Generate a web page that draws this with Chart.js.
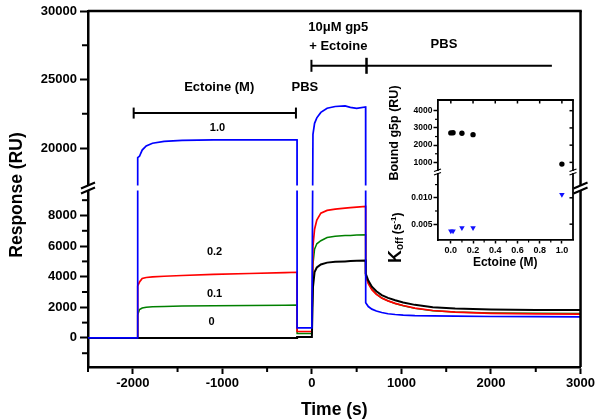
<!DOCTYPE html>
<html>
<head>
<meta charset="utf-8">
<script src="https://cdn.jsdelivr.net/npm/chart.js@4.4.0/dist/chart.umd.min.js"></script>
<style>
    html, body { margin: 0; padding: 0; background: #fff; }
    #wrap { position: relative; width: 597px; height: 420px; }
    #main { position: absolute; left: 0; top: 0; }
    #inset { position: absolute; left: 370px; top: 80px; }
</style>
</head>
<body>
<div id="wrap">
    <canvas id="main" width="597" height="420"></canvas>
    <canvas id="inset" width="215" height="200"></canvas>
</div>
<script>
const FONT = '"Liberation Sans", Arial, sans-serif';

// sensorgram: time (s) shared by all four traces, response in RU
const times = [-2500, -1946, -1945, -1925, -1895, -1850, -1780, -1650, -1450, -1100, -700, -300, -166, -165,
    0, 12, 30, 55, 100, 170, 260, 370, 430, 500, 600,
    601, 630, 670, 720, 780, 850, 930, 1020, 1150, 1350, 1600, 2000, 2500, 3000];
const resp10 = [0, 0, 19300, 19400, 19850, 20150, 20350, 20480, 20560, 20600, 20600, 20600, 20600, 650,
    650, 21000, 21800, 22200, 22600, 22900, 23030, 23070, 22970, 22900, 23000,
    2300, 2050, 1880, 1760, 1660, 1580, 1530, 1490, 1460, 1440, 1420, 1400, 1390, 1380];
const resp02 = [0, 0, 3400, 3650, 3880, 3950, 3990, 4030, 4080, 4150, 4210, 4270, 4290, 420,
    420, 6000, 7100, 7700, 8150, 8330, 8420, 8480, 8510, 8550, 8600,
    4050, 3550, 3150, 2850, 2600, 2420, 2260, 2120, 1950, 1790, 1680, 1610, 1570, 1550];
const resp01 = [0, 0, 1500, 1850, 1950, 2000, 2030, 2060, 2080, 2100, 2120, 2140, 2150, 290,
    290, 4800, 5800, 6150, 6350, 6560, 6640, 6690, 6700, 6720, 6740,
    4100, 3600, 3180, 2870, 2610, 2420, 2250, 2100, 1930, 1770, 1690, 1630, 1610, 1600];
const resp00 = [0, 0, 0, 0, 0, 0, 0, 0, 0, 0, 0, 0, 0, 60,
    60, 3300, 4300, 4600, 4800, 4920, 4970, 5000, 5020, 5040, 5050,
    4200, 3750, 3350, 3050, 2800, 2620, 2460, 2320, 2160, 2010, 1920, 1860, 1830, 1820];

const yMajor = [0, 2000, 4000, 6000, 8000, 20000, 25000, 30000];
const yMinor = [-1000, 1000, 3000, 5000, 7000, 9000, 22500, 27500];
const xMajor = [-2000, -1000, 0, 1000, 2000, 3000];
const xMinor = [-2500, -1500, -500, 500, 1500, 2500];

// inset: bound g5p and koff against ectoine concentration (M)
const ectoine = [0, 0.02, 0.1, 0.2, 1.0];
const boundG5p = [2710, 2720, 2690, 2610, 900];
const koff = [0.0037, 0.0037, 0.0043, 0.0043, 0.0106];
const insetYMajor = [0.005, 0.010, 1000, 2000, 3000, 4000];
const insetYMinor = [0.0075, 0.0125, 1500, 2500, 3500];
const insetXMajor = [0, 0.2, 0.4, 0.6, 0.8, 1.0];
const insetXMinor = [0.1, 0.3, 0.5, 0.7, 0.9];

// linear scale with a cut: lower range, small gap, upper range
function makeBrokenScale(id, lo, hi, wLo, wGap, wHi){
    class BrokenScale extends Chart.LinearScale {
        getPixelForValue(v){
            const k = (this.bottom - this.top) / (wLo + wGap + wHi);
            const loTop = this.bottom - wLo * k;
            const hiBot = this.top + wHi * k;
            if(v <= lo[1]) return this.bottom - (v - lo[0]) / (lo[1] - lo[0]) * wLo * k;
            if(v >= hi[0]) return this.top + (hi[1] - v) / (hi[1] - hi[0]) * wHi * k;
            return loTop + (v - lo[1]) / (hi[0] - lo[1]) * (hiBot - loTop);
        }
        getValueForPixel(p){
            const k = (this.bottom - this.top) / (wLo + wGap + wHi);
            const loTop = this.bottom - wLo * k;
            const hiBot = this.top + wHi * k;
            if(p >= loTop) return lo[0] + (this.bottom - p) / (wLo * k) * (lo[1] - lo[0]);
            if(p <= hiBot) return hi[1] - (p - this.top) / (wHi * k) * (hi[1] - hi[0]);
            return lo[1] + (loTop - p) / (loTop - hiBot) * (hi[0] - lo[1]);
        }
    }
    BrokenScale.id = id;
    BrokenScale.defaults = {};
    return BrokenScale;
}

const MAIN_LO = [-1900, 9600], MAIN_HI = [17300, 30000];
const INSET_LO = [0.002, 0.0147], INSET_HI = [500, 4620];
Chart.register(makeBrokenScale('brokenMain', MAIN_LO, MAIN_HI, 176, 6, 174));
Chart.register(makeBrokenScale('brokenInset', INSET_LO, INSET_HI, 67, 2, 71));

Chart.defaults.font.family = FONT;
Chart.defaults.font.weight = 'bold';
Chart.defaults.color = '#000';

function pts(values){
    return times.map((t, i) => ({x: t, y: values[i]}));
}

function line(ctx, x1, y1, x2, y2, w){
    ctx.lineWidth = w;
    ctx.beginPath();
    ctx.moveTo(x1, y1);
    ctx.lineTo(x2, y2);
    ctx.stroke();
}

function label(ctx, str, x, y, size, rot){
    ctx.save();
    ctx.font = 'bold ' + size + 'px ' + FONT;
    ctx.fillStyle = '#000';
    ctx.textAlign = 'center';
    ctx.textBaseline = 'middle';
    ctx.translate(x, y);
    if(rot) ctx.rotate(rot);
    ctx.fillText(str, 0, 0);
    ctx.restore();
}

// frame, minor ticks, axis cut, brackets and text on the sensorgram
const mainDecor = {
    id: 'mainDecor',
    afterDatasetsDraw(chart){
        const {ctx, chartArea: a, scales: {x, y}} = chart;
        ctx.save();
        ctx.strokeStyle = '#000';

        line(ctx, a.left, a.top, a.right + 1.25, a.top, 2.5);
        line(ctx, a.right, a.top, a.right, a.bottom, 2.5);

        yMinor.forEach(v => {
            const p = y.getPixelForValue(v);
            line(ctx, a.left - 6, p, a.left, p, 2);
        });
        xMinor.forEach(v => {
            const p = x.getPixelForValue(v);
            line(ctx, p, a.bottom, p, a.bottom + 5, 2);
        });

        // cut in the y axis
        const gTop = y.getPixelForValue(MAIN_HI[0]);
        const gBot = y.getPixelForValue(MAIN_LO[1]);
        ctx.fillStyle = '#fff';
        ctx.fillRect(a.left - 3, gTop + 0.5, a.right - a.left + 6, gBot - gTop - 1);
        const cy = (gTop + gBot) / 2;
        [a.left, a.right].forEach(cx => {
            line(ctx, cx - 7, cy + 0.5, cx + 7, cy - 5.5, 2);
            line(ctx, cx - 7, cy + 5.5, cx + 7, cy - 0.5, 2);
        });

        // injection brackets
        const by1 = y.getPixelForValue(22550);
        const bx1 = x.getPixelForValue(-1990), bx2 = x.getPixelForValue(-178);
        line(ctx, bx1, by1, bx2, by1, 2);
        line(ctx, bx1, by1 - 5.5, bx1, by1 + 5.5, 2);
        line(ctx, bx2, by1 - 5.5, bx2, by1 + 5.5, 2);

        const by2 = y.getPixelForValue(26000);
        const cx1 = x.getPixelForValue(-5), cx2 = x.getPixelForValue(610), cx3 = x.getPixelForValue(2680);
        line(ctx, cx1, by2, cx3, by2, 2);
        line(ctx, cx1, by2 - 6, cx1, by2 + 6, 2);
        line(ctx, cx2, by2 - 8, cx2, by2 + 8, 2.5);

        const px = (t, v) => [x.getPixelForValue(t), y.getPixelForValue(v)];
        label(ctx, 'Ectoine (M)', ...px(-1035, 24400), 13);
        label(ctx, 'PBS', ...px(-78, 24450), 13);
        label(ctx, '10\u03bcM gp5', ...px(295, 28830), 13);
        label(ctx, '+ Ectoine', ...px(295, 27450), 13);
        label(ctx, 'PBS', ...px(1475, 27590), 13);

        label(ctx, '1.0', ...px(-1054, 21460), 11);
        label(ctx, '0.2', ...px(-1087, 5610), 11);
        label(ctx, '0.1', ...px(-1087, 2860), 11);
        label(ctx, '0', ...px(-1120, 1030), 11);

        label(ctx, 'Response (RU)', 17, 195, 17.5, -Math.PI / 2);
        label(ctx, 'Time (s)', (a.left + a.right) / 2, 410, 17.5);
        ctx.restore();
    }
};

new Chart(document.getElementById('main'), {
    type: 'line',
    data: {
        datasets: [
            {label: '1.0', data: pts(resp10), borderColor: '#0000ff', borderWidth: 1.7},
            {label: '0', data: pts(resp00), borderColor: '#000000', borderWidth: 2},
            {label: '0.2', data: pts(resp02), borderColor: '#ff0000', borderWidth: 1.7},
            {label: '0.1', data: pts(resp01), borderColor: '#008000', borderWidth: 1.5}
        ]
    },
    options: {
        responsive: false,
        animation: false,
        events: [],
        elements: {point: {radius: 0}, line: {tension: 0, fill: false}},
        layout: {autoPadding: false, padding: {left: 0, top: 11, right: 13, bottom: 0}},
        plugins: {legend: {display: false}, tooltip: {enabled: false}},
        scales: {
            x: {
                type: 'linear', min: -2500, max: 3000,
                afterBuildTicks: s => { s.ticks = xMajor.map(v => ({value: v})); },
                afterFit: s => { s.height = 53; },
                ticks: {autoSkip: false, maxRotation: 0, minRotation: 0, padding: 2,
                    font: {size: 13, weight: 'bold'}, callback: v => String(v)},
                grid: {drawOnChartArea: false, tickLength: 7, tickWidth: 2, tickColor: '#000'},
                border: {color: '#000', width: 2.5}
            },
            y: {
                type: 'brokenMain', min: MAIN_LO[0], max: MAIN_HI[1],
                afterBuildTicks: s => { s.ticks = yMajor.map(v => ({value: v})); },
                afterFit: s => { s.width = 88; },
                ticks: {autoSkip: false, padding: 3, font: {size: 13, weight: 'bold'}, callback: v => String(v)},
                grid: {drawOnChartArea: false, tickLength: 8, tickWidth: 2, tickColor: '#000'},
                border: {color: '#000', width: 2.5}
            }
        }
    },
    plugins: [mainDecor]
});

// frame, mirrored ticks, cut and titles of the inset
const insetDecor = {
    id: 'insetDecor',
    afterDatasetsDraw(chart){
        const {ctx, chartArea: a, scales: {x, y}} = chart;
        ctx.save();
        ctx.strokeStyle = '#000';
        line(ctx, a.left, a.top, a.right + 0.9, a.top, 1.8);
        line(ctx, a.right, a.top, a.right, a.bottom, 1.8);

        insetXMajor.forEach(v => {
            const p = x.getPixelForValue(v);
            line(ctx, p, a.top, p, a.top + 3.5, 1.5);
        });
        insetYMajor.forEach(v => {
            const p = y.getPixelForValue(v);
            line(ctx, a.right - 3.5, p, a.right, p, 1.5);
        });
        insetYMinor.forEach(v => {
            const p = y.getPixelForValue(v);
            line(ctx, a.left - 2.5, p, a.left, p, 1.2);
        });
        insetXMinor.forEach(v => {
            const p = x.getPixelForValue(v);
            line(ctx, p, a.bottom, p, a.bottom + 2.5, 1.2);
        });

        const gTop = y.getPixelForValue(INSET_HI[0]);
        const gBot = y.getPixelForValue(INSET_LO[1]);
        const cy = (gTop + gBot) / 2;
        ctx.fillStyle = '#fff';
        [a.left, a.right].forEach(cx => {
            ctx.fillRect(cx - 2, gTop, 4, gBot - gTop);
            line(ctx, cx - 3.5, cy - 0.5, cx + 3.5, cy - 3, 1.2);
            line(ctx, cx - 3.5, cy + 3, cx + 3.5, cy + 0.5, 1.2);
        });

        label(ctx, 'Ectoine (M)', (a.left + a.right) / 2, 183, 12);
        label(ctx, 'Bound g5p (RU)', 25, 53, 12.5, -Math.PI / 2);

        // K_off (s^-1), written bottom to top
        ctx.translate(30.5, 183);
        ctx.rotate(-Math.PI / 2);
        ctx.fillStyle = '#000';
        ctx.textAlign = 'left';
        ctx.textBaseline = 'alphabetic';
        let cx = 0;
        const part = (str, size, dy) => {
            ctx.font = 'bold ' + size + 'px ' + FONT;
            ctx.fillText(str, cx, dy);
            cx += ctx.measureText(str).width;
        };
        part('K', 18, 0);
        part('off', 10, 2);
        cx += 3;
        part('(s', 12, 0);
        part('-1', 8, -5);
        part(')', 12, 0);
        ctx.restore();
    }
};

new Chart(document.getElementById('inset'), {
    type: 'scatter',
    data: {
        datasets: [
            {label: 'Bound g5p', data: ectoine.map((c, i) => ({x: c, y: boundG5p[i]})),
                pointStyle: 'circle', pointRadius: 2.7, backgroundColor: '#000', borderWidth: 0},
            {label: 'koff', data: ectoine.map((c, i) => ({x: c, y: koff[i]})),
                pointStyle: 'triangle', rotation: 180, pointRadius: 3.2, backgroundColor: '#1010ff', borderWidth: 0}
        ]
    },
    options: {
        responsive: false,
        animation: false,
        events: [],
        layout: {autoPadding: false, padding: {left: 0, top: 20, right: 12, bottom: 0}},
        plugins: {legend: {display: false}, tooltip: {enabled: false}},
        scales: {
            x: {
                type: 'linear', min: -0.12, max: 1.10,
                afterBuildTicks: s => { s.ticks = insetXMajor.map(v => ({value: v})); },
                afterFit: s => { s.height = 40; },
                ticks: {autoSkip: false, maxRotation: 0, minRotation: 0, padding: 2,
                    font: {size: 9, weight: 'bold'}, callback: v => v.toFixed(1)},
                grid: {drawOnChartArea: false, tickLength: 3.5, tickWidth: 1.5, tickColor: '#000'},
                border: {color: '#000', width: 1.8}
            },
            y: {
                type: 'brokenInset', min: INSET_LO[0], max: INSET_HI[1],
                afterBuildTicks: s => { s.ticks = insetYMajor.map(v => ({value: v})); },
                afterFit: s => { s.width = 67.5; },
                ticks: {autoSkip: false, padding: 1, font: {size: 8.5, weight: 'bold'},
                    callback: v => v < 1 ? v.toFixed(3) : String(v)},
                grid: {drawOnChartArea: false, tickLength: 4, tickWidth: 1.5, tickColor: '#000'},
                border: {color: '#000', width: 1.8}
            }
        }
    },
    plugins: [insetDecor]
});
</script>
</body>
</html>
